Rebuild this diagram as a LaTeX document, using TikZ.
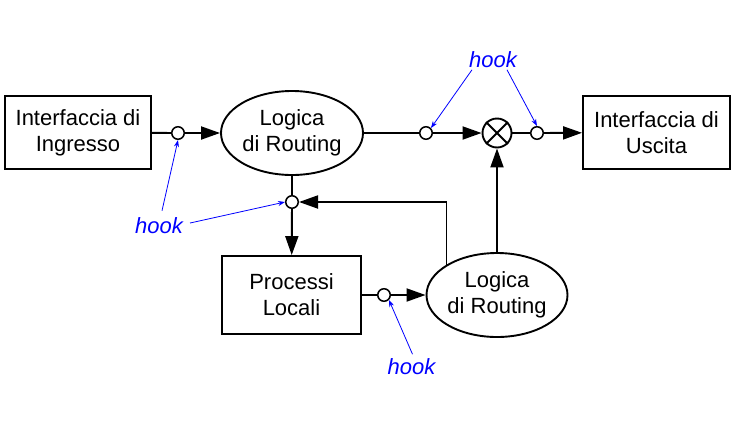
\documentclass[tikz,border=0pt]{standalone}
\usepackage{fontspec}
\setmainfont{Liberation Sans}
\usetikzlibrary{arrows.meta,shapes.geometric,calc}
\begin{document}
\begin{tikzpicture}[x=1pt,y=-1pt,
  font=\fontsize{22}{26}\selectfont,
  boxnode/.style={draw,line width=1.9pt,rectangle,align=center,inner sep=0pt},
  ellnode/.style={draw,line width=1.9pt,ellipse,align=center,inner sep=0pt,minimum width=142pt,minimum height=84pt},
  hookpt/.style={draw,fill=white,circle,line width=1.5pt,inner sep=0pt,minimum size=12.5pt},
  otnode/.style={draw,fill=white,circle,line width=1.9pt,inner sep=0pt,minimum size=29pt},
  conn/.style={line width=1.9pt},
  arr/.style={conn,-{Triangle[length=19pt,width=13pt]}},
  hooktxt/.style={text=blue,font=\fontsize{22}{26}\selectfont\itshape,inner sep=1pt},
  hookarr/.style={blue,line width=0.8pt,-{Stealth[length=7pt,width=5pt]}}
]
\useasboundingbox (0,0) rectangle (736,421);

% nodes
\node[boxnode,minimum width=146pt,minimum height=73pt] (in) at (78,132.5) {Interfaccia di\\Ingresso};
\node[ellnode] (lr1) at (292,133) {Logica\\di Routing};
\node[hookpt] (h1) at (178,133) {};
\node[hookpt] (j) at (292,202) {};
\node[boxnode,minimum width=139pt,minimum height=78pt] (pl) at (291.5,295) {Processi\\Locali};
\node[hookpt] (h3) at (384,295) {};
\node[ellnode,minimum width=141pt] (lr2) at (497,295) {Logica\\di Routing};
\node[hookpt] (h4) at (426,133) {};
\node[otnode] (ot) at (497,133) {};
\node[hookpt] (h5) at (537,133) {};
\node[boxnode,minimum width=147pt,minimum height=73pt] (out) at (656.5,132.5) {Interfaccia di\\Uscita};

% cross in the otimes
\draw[line width=1.9pt] (ot.45) -- (ot.225) (ot.135) -- (ot.315);

% connectors
\draw[conn] (in) -- (h1);
\draw[arr] (h1) -- (lr1);
\draw[conn] (lr1) -- (h4);
\draw[arr] (h4) -- (ot);
\draw[conn] (ot) -- (h5);
\draw[arr] (h5) -- (out);
\draw[conn] (lr1) -- (j);
\draw[arr] (j) -- (pl);
\draw[conn] (pl) -- (h3);
\draw[arr] (h3) -- (lr2);
\draw[arr] (lr2.149) |- (j);
\draw[arr] (lr2) -- (ot);

% hook labels
\node[hooktxt] (hT) at (493,59.5) {hook};
\node[hooktxt] (hL) at (159,226) {hook};
\node[hooktxt] (hB) at (411.5,366.5) {hook};

\draw[hookarr] ($(hT.south)+(-21,1)$) -- (h4.north east);
\draw[hookarr] ($(hT.south)+(14,1)$) -- (h5.north);
\draw[hookarr] ($(hL.north)+(3,-6)$) -- (h1.south);
\draw[hookarr] ($(hL.east)+(6,-3)$) -- (j.west);
\draw[hookarr] ($(hB.north)+(1,-3)$) -- (h3.south east);
\end{tikzpicture}
\end{document}
